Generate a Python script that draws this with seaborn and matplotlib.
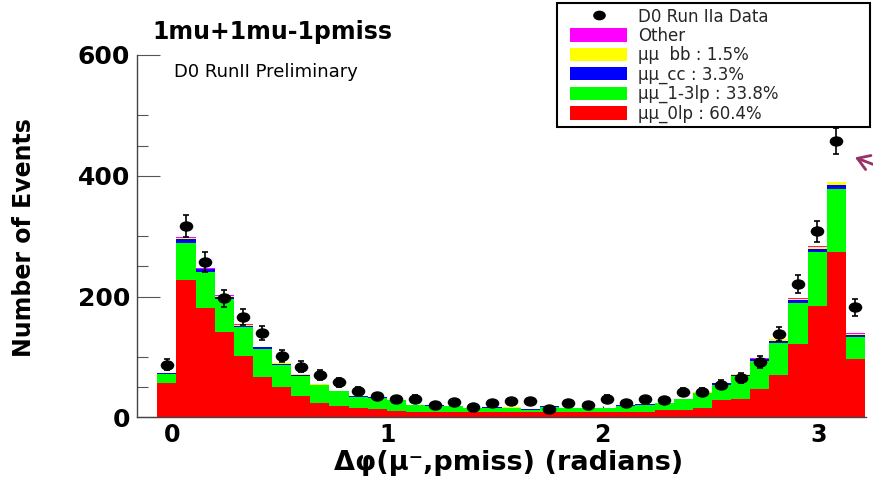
import numpy as np
import pandas as pd
import matplotlib
matplotlib.use("Agg")
import matplotlib.pyplot as plt
import seaborn as sns
from matplotlib.markers import MarkerStyle
from matplotlib.transforms import Affine2D
from matplotlib.patches import Patch, Rectangle
from matplotlib.lines import Line2D

# ---------------- data ----------------
bin_lo, bin_hi, n_bins = -0.067, 3.217, 37

mumu_0lp = [57, 228, 181, 141, 102, 66, 50, 35, 24, 19, 16, 13, 10, 8, 8, 8, 8, 8, 8,
            8, 8, 8, 8, 8, 8, 9, 12, 12, 16, 29, 30, 47, 70, 121, 185, 274, 96]
mumu_13lp = [15, 61, 59, 55, 47, 47, 37, 33, 29, 24, 18, 19, 18, 12, 11, 10, 7, 8, 7,
             4, 9, 7, 7, 7, 11, 12, 11, 18, 24, 25, 38, 46, 53, 68, 88, 104, 37]
mumu_cc = [1, 6, 5, 4, 3, 3, 2, 2, 1, 1, 1, 1, 1, 1, 1, 1, 1, 1, 1,
           1, 1, 1, 1, 1, 1, 1, 1, 1, 1, 2, 2, 3, 4, 5, 6, 7, 4]
mumu_bb = [0, 2, 1, 1, 1, 1, 1, 1, 1, 0, 0, 0, 0, 0, 0, 0, 0, 0, 1,
           0, 0, 0, 0, 0, 0, 0, 0, 0, 1, 1, 1, 1, 2, 2, 3, 4, 1]
other = [0, 1, 1, 1, 1, 0, 0, 0, 0, 0, 0, 0, 0, 0, 0, 0, 0, 0, 0,
         0, 1, 0, 0, 0, 0, 0, 0, 0, 0, 0, 1, 1, 1, 1, 1, 1, 1]
data = [87, 317, 257, 197, 166, 139, 102, 84, 70, 58, 44, 35, 30, 31, 21, 26, 17, 23, 27,
        27, 14, 23, 21, 31, 23, 30, 29, 42, 42, 54, 65, 92, 138, 221, 308, 458, 182]

legend_labels = ["D0 Run IIa Data", "Other", "\u03bc\u03bc  bb : 1.5%", "\u03bc\u03bc_cc : 3.3%",
                 "\u03bc\u03bc_1-3lp : 33.8%", "\u03bc\u03bc_0lp : 60.4%"]
x_major = [0, 1, 2, 3]
x_minor = [0.4, 0.6, 0.8, 1.2, 1.4, 1.8, 2.4, 2.6, 2.8, 3.2]
y_major = [0, 200, 400, 600]
y_minor = [50, 100, 250, 300, 450, 500]

# ---------------- style ----------------
sns.set_theme(style="ticks")
plt.rcParams['font.family'] = ['DejaVu Sans']

W, H = 873, 482
fig = plt.figure(figsize=(W / 100, H / 100), dpi=100)
fig.patch.set_facecolor("white")
ax = fig.add_axes([137 / W, 1 - 417.3 / H, (866 - 137) / W, (417.3 - 55) / H])
ax.set_facecolor("white")

edges = np.linspace(bin_lo, bin_hi, n_bins + 1)
centers = 0.5 * (edges[:-1] + edges[1:])

stack = [mumu_0lp, mumu_13lp, mumu_cc, mumu_bb, other]
colors = ["#ff0000", "#00ff00", "#0000ff", "#ffff00", "#ff00ff"]
cum = np.cumsum(np.array(stack, dtype=float), axis=0)
for k in range(len(stack) - 1, -1, -1):
    df = pd.DataFrame({"x": centers, "w": cum[k]})
    sns.histplot(data=df, x="x", weights="w", bins=n_bins, binrange=(bin_lo, bin_hi),
                 color=colors[k], alpha=1, linewidth=0, ax=ax, stat="count", zorder=2)

err = np.sqrt(np.array(data, dtype=float))
ax.errorbar(centers, data, yerr=err, fmt="none", ecolor="black", elinewidth=1.2,
            capsize=2.5, capthick=1.2, zorder=5)
ell = MarkerStyle("o", transform=Affine2D().scale(1.35, 1.0))
ax.plot(centers, data, linestyle="none", marker=ell, markersize=6.5, color="black", zorder=6)

ax.set_xlim(-0.161, 3.222)
ax.set_ylim(0, 600)
ax.set_xlabel("")
ax.set_ylabel("")
sns.despine(ax=ax)
for s in ("left", "bottom"):
    ax.spines[s].set_color("#444444")
    ax.spines[s].set_linewidth(1.0)

ax.set_xticks(x_major)
ax.set_xticklabels([str(v) for v in x_major])
ax.set_xticks(x_minor, minor=True)
ax.set_yticks(y_major)
ax.set_yticklabels([str(v) for v in y_major])
ax.set_yticks(y_minor, minor=True)
ax.tick_params(axis="x", which="major", direction="in", length=8, width=0.8,
               color="#333333", labelsize=17, pad=4)
ax.tick_params(axis="x", which="minor", direction="in", length=3, width=0.8, color="#333333")
ax.tick_params(axis="y", which="major", direction="in", length=16.5, width=0.8,
               color="#555555", labelsize=18, pad=5)
ax.tick_params(axis="y", which="minor", direction="in", length=8, width=0.8, color="#555555")
for lab in ax.get_xticklabels() + ax.get_yticklabels():
    lab.set_fontweight("bold")
    lab.set_color("black")

# axis titles & texts
fig.text(24.5 / W, 1 - 237.5 / H, "Number of Events", rotation=90, ha="center", va="center",
         fontsize=17, fontweight="bold", color="black")
fig.text(509 / W, 1 - 463 / H, "\u0394\u03c6(\u03bc\u207b,pmiss) (radians)", ha="center",
         va="center", fontsize=19.5, fontweight="bold", color="black")
fig.text(152 / W, 1 - 39.3 / H, "1mu+1mu-1pmiss", ha="left", va="baseline",
         fontsize=17, fontweight="bold", color="black")
fig.text(174 / W, 1 - 76.7 / H, "D0 RunII Preliminary", ha="left", va="baseline",
         fontsize=13, color="black")

# arrow pointing at the peak data point
ax.annotate("", xy=(centers[35] + 0.075, data[35] - 26), xycoords="data",
            xytext=(1.035, 1 - 176 / H), textcoords="figure fraction",
            arrowprops=dict(arrowstyle="->,head_length=0.7,head_width=0.45",
                            color="#973266", lw=2), annotation_clip=False, zorder=7)

# legend box
fig.patches.append(Rectangle((557 / W, 1 - 127 / H), (870 - 557) / W, 124 / H,
                             transform=fig.transFigure, facecolor="white",
                             edgecolor="black", linewidth=1.5, zorder=3))
fs = 12 * 100 / 72
handles = [Line2D([], [], marker=ell, linestyle="none", color="black", markersize=6)]
for c in ["#ff00ff", "#ffff00", "#0000ff", "#00ff00", "#ff0000"]:
    handles.append(Patch(facecolor=c, edgecolor="none"))
leg = fig.legend(handles, legend_labels, loc="upper left",
                 bbox_to_anchor=(570 / W, 1 - 7.5 / H), bbox_transform=fig.transFigure,
                 frameon=False, borderpad=0, borderaxespad=0,
                 handlelength=57 / fs, handleheight=14 / fs, handletextpad=11 / fs,
                 fontsize=12, labelspacing=0.08)
leg.set_zorder(10)

fig.savefig("out.png", dpi=100, facecolor="white")
